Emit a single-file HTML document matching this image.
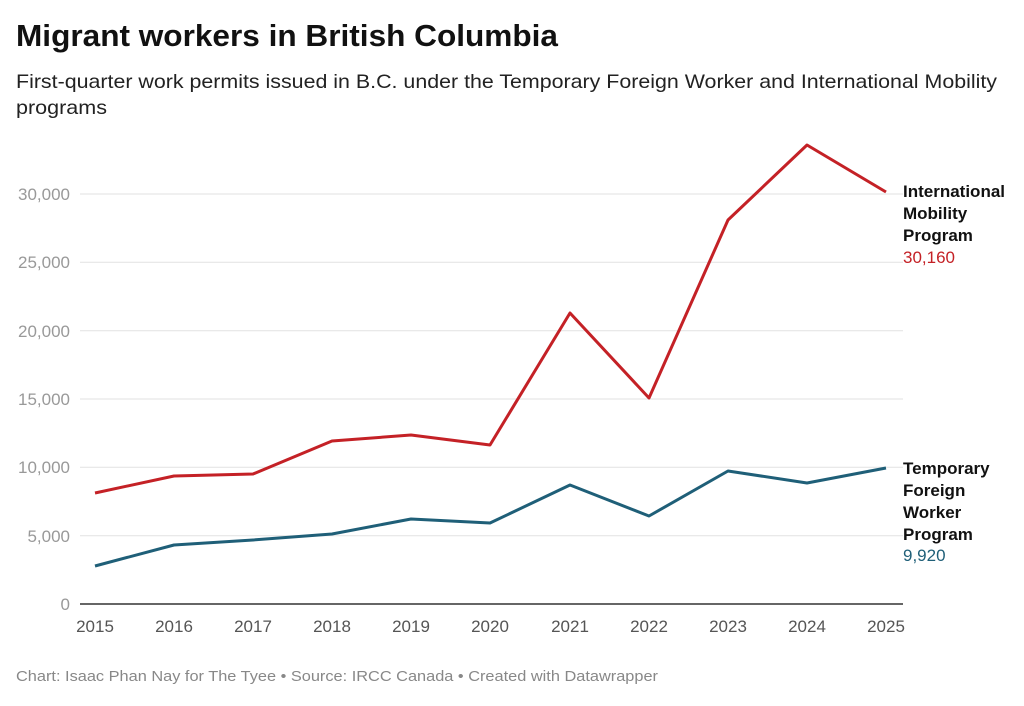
<!DOCTYPE html>
<html><head><meta charset="utf-8"><style>
body{margin:0;background:#fff;width:1024px;height:701px;overflow:hidden;font-family:"Liberation Sans",sans-serif;}
</style></head><body>
<svg width="1024" height="701" xmlns="http://www.w3.org/2000/svg" font-family="Liberation Sans, sans-serif">
<text x="16" y="46" font-size="31" font-weight="bold" fill="#111" textLength="542" lengthAdjust="spacingAndGlyphs">Migrant workers in British Columbia</text>
<text x="16" y="88" font-size="19.5" fill="#222" textLength="981" lengthAdjust="spacingAndGlyphs">First-quarter work permits issued in B.C. under the Temporary Foreign Worker and International Mobility</text>
<text x="16" y="114" font-size="19.5" fill="#222" textLength="91" lengthAdjust="spacingAndGlyphs">programs</text>
<g stroke="#e2e2e2" stroke-width="1">
<line x1="80" x2="903" y1="194" y2="194"/><line x1="80" x2="903" y1="262.3" y2="262.3"/>
<line x1="80" x2="903" y1="330.7" y2="330.7"/><line x1="80" x2="903" y1="399" y2="399"/>
<line x1="80" x2="903" y1="467.3" y2="467.3"/><line x1="80" x2="903" y1="535.7" y2="535.7"/>
</g>
<line x1="80" x2="903" y1="604" y2="604" stroke="#333" stroke-width="1.5"/>
<g font-size="17" fill="#999" text-anchor="end">
<text x="70" y="200">30,000</text><text x="70" y="268">25,000</text><text x="70" y="337">20,000</text>
<text x="70" y="405">15,000</text><text x="70" y="473">10,000</text><text x="70" y="542">5,000</text><text x="70" y="610">0</text>
</g>
<g font-size="17" fill="#555" text-anchor="middle">
<text x="95" y="632">2015</text><text x="174" y="632">2016</text><text x="253" y="632">2017</text><text x="332" y="632">2018</text><text x="411" y="632">2019</text><text x="490" y="632">2020</text><text x="570" y="632">2021</text><text x="649" y="632">2022</text><text x="728" y="632">2023</text><text x="807" y="632">2024</text><text x="886" y="632">2025</text>
</g>
<polyline fill="none" stroke="#c42126" stroke-width="3" stroke-linejoin="round" points="95,493 174,476 253,474 332,441 411,435 490,445 570,313 649,398 728,220 807,145 886,192"/>
<polyline fill="none" stroke="#1f5f78" stroke-width="3" stroke-linejoin="round" points="95,566 174,545 253,540 332,534 411,519 490,523 570,485 649,516 728,471 807,483 886,468"/>
<g font-size="17" font-weight="bold" fill="#111">
<text x="903" y="197">International</text><text x="903" y="219">Mobility</text><text x="903" y="241">Program</text>
<text x="903" y="474">Temporary</text><text x="903" y="496">Foreign</text><text x="903" y="518">Worker</text><text x="903" y="540">Program</text>
</g>
<text x="903" y="263" font-size="17" fill="#c42126">30,160</text>
<text x="903" y="561" font-size="17" fill="#1f5f78">9,920</text>
<text x="16" y="681" font-size="15" fill="#888" textLength="642" lengthAdjust="spacingAndGlyphs">Chart: Isaac Phan Nay for The Tyee • Source: IRCC Canada • Created with Datawrapper</text>
</svg>
</body></html>
